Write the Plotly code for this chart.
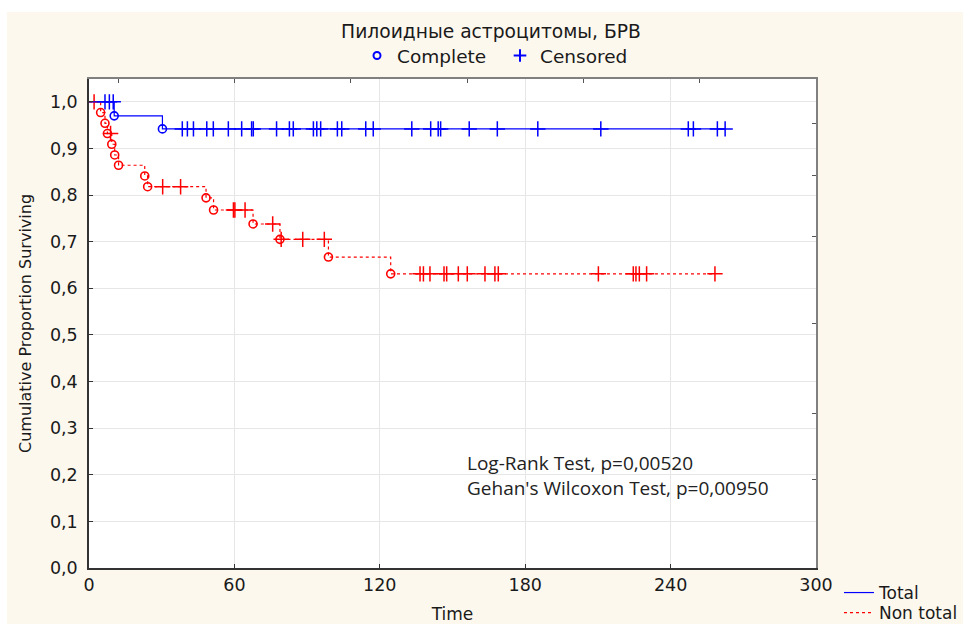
import numpy as np
import plotly.graph_objects as go

# ---------------- data ----------------
title_text = "Пилоидные астроцитомы, БРВ"
x_ticks = [0, 60, 120, 180, 240, 300]
y_ticks = [0.0, 0.1, 0.2, 0.3, 0.4, 0.5, 0.6, 0.7, 0.8, 0.9, 1.0]

# Total (blue): step times (event times) and survival after each step
total_times = [0, 10.4, 30.3]
total_surv = [1.0, 0.970, 0.942]
total_censored = [6.6, 8.4, 10.0, 38.5, 40.6, 43.1, 48.6, 51.3, 57.5, 63.0, 67.1, 67.8,
                  77.4, 82.7, 84.3, 92.6, 94.0, 95.6, 102.5, 104.3, 114.2, 117.3, 133.2,
                  141.0, 144.1, 145.1, 156.9, 168.5, 185.2, 211.2, 247.3, 249.4, 259.3, 262.5]

# Non total (red)
nontotal_times = [0, 4.8, 6.6, 7.6, 9.4, 10.6, 12.2, 23.0, 24.2, 48.3, 51.4, 67.7, 78.8, 98.8, 124.5]
nontotal_surv = [1.0, 0.977, 0.954, 0.932, 0.909, 0.886, 0.864, 0.841, 0.818, 0.794, 0.768,
                 0.738, 0.705, 0.667, 0.631]
nontotal_censored = [2.1, 8.9, 30.4, 37.8, 59.6, 60.2, 64.4, 75.8, 79.3, 88.2, 97.1, 136.6,
                     138.0, 140.7, 146.5, 147.6, 152.4, 156.1, 163.4, 167.5, 168.9, 210.2,
                     224.6, 225.7, 227.1, 230.1, 258.3]

test_lines = ["Log-Rank Test, p=0,00520", "Gehan's Wilcoxon Test, p=0,00950"]
test_pos = [(155.0, 0.225), (155.0, 0.172)]

# extra inner tick marks on top / right frame
top_ticks = [12, 60, 108, 156, 204, 252]
right_ticks = [0.954, 0.843, 0.712, 0.525, 0.332, 0.190]

BLUE = "#0000ff"
RED = "#ff0000"
FONT = "DejaVu Sans"
CREAM = "#fdf8ee"

L, R, T, B = 89, 147, 79, 56
PW, PH = 963 - L - R, 624 - T - B


def surv_at(times, surv, t):
    idx = np.searchsorted(np.array(times), np.array(t), side="right") - 1
    return list(np.array(surv)[idx])


def px_x(x):
    return (x - L) / PW


def px_y(y):
    return (624 - B - y) / PH


fig = go.Figure()

# ---- Non total (red dashed) ----
nt_end = max(nontotal_censored)
fig.add_trace(go.Scatter(
    x=nontotal_times + [nt_end], y=nontotal_surv + [nontotal_surv[-1]],
    mode="lines", line=dict(color=RED, width=1.2, dash="3px,3px", shape="hv"),
    name="Non total", legend="legend3"))
fig.add_trace(go.Scatter(
    x=nontotal_times[1:], y=nontotal_surv[1:], mode="markers",
    marker=dict(symbol="circle-open", size=8, color=RED, line=dict(color=RED, width=1.6)),
    showlegend=False))
fig.add_trace(go.Scatter(
    x=nontotal_censored, y=surv_at(nontotal_times, nontotal_surv, nontotal_censored),
    mode="markers",
    marker=dict(symbol="cross-thin", size=11, color=RED, line=dict(color=RED, width=1.5)),
    showlegend=False))

# ---- Total (blue solid) ----
t_end = max(total_censored)
fig.add_trace(go.Scatter(
    x=total_times + [t_end], y=total_surv + [total_surv[-1]],
    mode="lines", line=dict(color=BLUE, width=1.2, shape="hv"),
    name="Total", legend="legend"))
fig.add_trace(go.Scatter(
    x=total_times[1:], y=total_surv[1:], mode="markers",
    marker=dict(symbol="circle-open", size=8, color=BLUE, line=dict(color=BLUE, width=1.6)),
    showlegend=False))
fig.add_trace(go.Scatter(
    x=total_censored, y=surv_at(total_times, total_surv, total_censored),
    mode="markers",
    marker=dict(symbol="cross-thin", size=11, color=BLUE, line=dict(color=BLUE, width=1.5)),
    showlegend=False))

# ---- top legend entries ----
fig.add_trace(go.Scatter(
    x=[None], y=[None], mode="markers", name="Complete", legend="legend2",
    marker=dict(symbol="circle-open", size=7, color=BLUE, line=dict(color=BLUE, width=2))))
fig.add_trace(go.Scatter(
    x=[None], y=[None], mode="markers", name="Censored", legend="legend2",
    marker=dict(symbol="cross-thin", size=9, color=BLUE, line=dict(color=BLUE, width=2))))

# invisible traces to activate frame axes
fig.add_trace(go.Scatter(x=[None], y=[None], xaxis="x2", yaxis="y", showlegend=False))
fig.add_trace(go.Scatter(x=[None], y=[None], xaxis="x", yaxis="y2", showlegend=False))

for (tx, ty), txt in zip(test_pos, test_lines):
    fig.add_annotation(x=tx, y=ty, xref="x", yref="y", text=txt, showarrow=False,
                       xanchor="left", yanchor="middle",
                       font=dict(family="Open Sans", size=19, color="#222222"))

# white strips (outside the cream area)
fig.add_shape(type="rect", xref="paper", yref="paper", x0=-0.3, x1=1.4,
              y0=px_y(12), y1=1.4, fillcolor="white", line_width=0, layer="below")
fig.add_shape(type="rect", xref="paper", yref="paper", x0=-0.3, x1=px_x(7),
              y0=-0.3, y1=1.4, fillcolor="white", line_width=0, layer="below")

legend_font = dict(family=FONT, size=17, color="#1a1a1a")

fig.update_layout(
    width=963, height=624,
    margin=dict(l=L, r=R, t=T, b=B, autoexpand=False),
    paper_bgcolor=CREAM, plot_bgcolor="white",
    separators=", ",
    font=dict(family=FONT, size=17, color="#1a1a1a"),
    title=dict(text=title_text, x=491 / 963, xanchor="center", xref="container",
               y=1 - 31 / 624, yref="container", yanchor="middle",
               font=dict(family=FONT, size=18.7, color="#1a1a1a")),
    xaxis=dict(range=[0, 300], tickvals=x_ticks, showgrid=True, gridcolor="#e6e6e6",
               gridwidth=1, zeroline=False, showline=True, linecolor="#333333", linewidth=1.5,
               ticks="inside", ticklen=4, tickcolor="#333333",
               tickfont=dict(family=FONT, size=17.5, color="#1a1a1a"),
               title=dict(text="Time", standoff=20, font=dict(family=FONT, size=17))),
    yaxis=dict(range=[0, 1.049], tickvals=y_ticks, tickformat=".1f", showgrid=True,
               gridcolor="#e6e6e6", gridwidth=1, zeroline=False, showline=True,
               linecolor="#333333", linewidth=1.5, ticks="inside", ticklen=4,
               tickcolor="#333333", ticklabelstandoff=6,
               tickfont=dict(family=FONT, size=17.5, color="#1a1a1a"),
               title=dict(text="Cumulative Proportion Surviving", standoff=14,
                          font=dict(family=FONT, size=16))),
    xaxis2=dict(overlaying="x", side="top", anchor="y", range=[0, 300], tickvals=top_ticks,
                ticks="inside", ticklen=4, tickcolor="#555555", showticklabels=False,
                showgrid=False, zeroline=False, showline=True, linecolor="#808080",
                linewidth=1.5),
    yaxis2=dict(overlaying="y", side="right", anchor="x", range=[0, 1.049],
                tickvals=right_ticks, ticks="inside", ticklen=4, tickcolor="#555555",
                showticklabels=False, showgrid=False, zeroline=False, showline=True,
                linecolor="#808080", linewidth=1.5),
    legend=dict(x=px_x(839), xanchor="left", y=px_y(575), yanchor="top",
                bgcolor="rgba(0,0,0,0)", borderwidth=0, font=legend_font),
    legend3=dict(x=px_x(839), xanchor="left", y=px_y(595), yanchor="top",
                 bgcolor="rgba(0,0,0,0)", borderwidth=0, font=legend_font),
    legend2=dict(orientation="h", x=px_x(500), xanchor="center", entrywidth=98,
                 y=px_y(56), yanchor="middle", bgcolor="rgba(0,0,0,0)",
                 font=dict(family=FONT, size=18.5, color="#1a1a1a")),
    showlegend=True,
)

fig.write_html("out.html")
